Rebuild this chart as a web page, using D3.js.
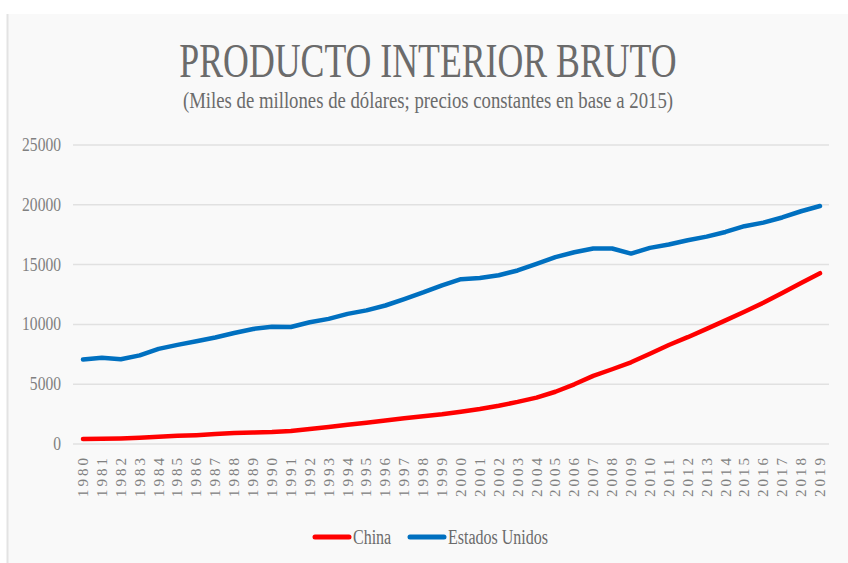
<!DOCTYPE html>
<html lang="es">
<head>
  <meta charset="UTF-8" />
  <title>Producto Interior Bruto</title>
  <script src="https://cdn.jsdelivr.net/npm/d3@7/dist/d3.min.js"></script>
  <style>
    body { margin: 0; background: #fff; }
    text { font-family: "Liberation Serif", "DejaVu Serif", serif; }
  </style>
</head>
<body>
  <div id="chart"></div>
  <script>
    // data (miles de millones de dolares, precios 2015)
    var years = d3.range(1980, 2020);
    var china = [410, 430, 470, 520, 600, 680, 740, 830, 920, 960,
      1000, 1090, 1250, 1420, 1610, 1780, 1960, 2150, 2320, 2490,
      2700, 2930, 3200, 3520, 3880, 4370, 4990, 5700, 6250, 6830,
      7550, 8280, 8930, 9630, 10340, 11060, 11810, 12630, 13470, 14280];
    var usa = [7060, 7220, 7090, 7410, 7950, 8290, 8590, 8900, 9280, 9620,
      9800, 9780, 10180, 10460, 10880, 11170, 11580, 12120, 12670, 13270,
      13780, 13880, 14110, 14510, 15060, 15620, 16030, 16350, 16350, 15920,
      16400, 16680, 17040, 17340, 17730, 18210, 18510, 18940, 19460, 19900];
    var yTicks = [0, 5000, 10000, 15000, 20000, 25000];
    var seriesNames = ["China", "Estados Unidos"];
    var seriesColors = ["#ff0000", "#0070c0"];

    var w = 848, h = 563;

    var svg = d3.select("#chart").append("svg")
      .attr("width", w)
      .attr("height", h);

    // panel
    svg.append("rect")
      .attr("x", 7).attr("y", 14)
      .attr("width", w - 7).attr("height", h - 14)
      .attr("fill", "#f9f9f9");
    svg.append("line")
      .attr("x1", 7.5).attr("x2", 7.5)
      .attr("y1", 14).attr("y2", h)
      .attr("stroke", "#e3e3e3")
      .attr("stroke-width", 2);

    // titles (condensed via horizontal scale)
    svg.append("text")
      .attr("transform", "translate(428,77) scale(0.73,1)")
      .attr("text-anchor", "middle")
      .attr("font-size", 49)
      .attr("fill", "#6b6b6b")
      .text("PRODUCTO INTERIOR BRUTO");

    svg.append("text")
      .attr("transform", "translate(428,108) scale(0.815,1)")
      .attr("text-anchor", "middle")
      .attr("font-size", 23)
      .attr("fill", "#6b6b6b")
      .text("(Miles de millones de dólares; precios constantes en base a 2015)");

    var x = d3.scalePoint()
      .domain(years)
      .range([83, 820]);

    var y = d3.scaleLinear()
      .domain([0, 25000])
      .range([444, 145]);

    // gridlines
    svg.append("g")
      .selectAll("line")
      .data(yTicks)
      .enter()
      .append("line")
      .attr("x1", 73).attr("x2", 829)
      .attr("y1", function(d) { return y(d); })
      .attr("y2", function(d) { return y(d); })
      .attr("stroke", "#e1e1e1")
      .attr("stroke-width", 1.5);

    // y labels
    svg.append("g")
      .selectAll("text")
      .data(yTicks)
      .enter()
      .append("text")
      .attr("transform", function(d) {
        return "translate(61," + (y(d) + 6) + ") scale(0.82,1)";
      })
      .attr("text-anchor", "end")
      .attr("font-size", 19)
      .attr("fill", "#808080")
      .text(function(d) { return d; });

    // x labels (rotated)
    svg.append("g")
      .selectAll("text")
      .data(years)
      .enter()
      .append("text")
      .attr("transform", function(d) {
        return "translate(" + (x(d) + 5) + ",497) rotate(-90)";
      })
      .attr("font-size", 15)
      .attr("fill", "#808080")
      .attr("letter-spacing", 3)
      .text(function(d) { return d; });

    // lines
    var line = d3.line()
      .x(function(d, i) { return x(years[i]); })
      .y(function(d) { return y(d); });

    [china, usa].forEach(function(s, i) {
      svg.append("path")
        .datum(s)
        .attr("d", line)
        .attr("fill", "none")
        .attr("stroke", seriesColors[i])
        .attr("stroke-width", 4.5)
        .attr("stroke-linejoin", "round")
        .attr("stroke-linecap", "round");
    });

    // legend
    var legX = [315, 410];
    var legend = svg.append("g");
    seriesNames.forEach(function(name, i) {
      legend.append("line")
        .attr("x1", legX[i]).attr("x2", legX[i] + 34)
        .attr("y1", 537).attr("y2", 537)
        .attr("stroke", seriesColors[i])
        .attr("stroke-width", 5)
        .attr("stroke-linecap", "round");
      legend.append("text")
        .attr("transform", "translate(" + (legX[i] + 38) + ",544) scale(0.8,1)")
        .attr("font-size", 20)
        .attr("fill", "#6b6b6b")
        .text(name);
    });
  </script>
</body>
</html>
